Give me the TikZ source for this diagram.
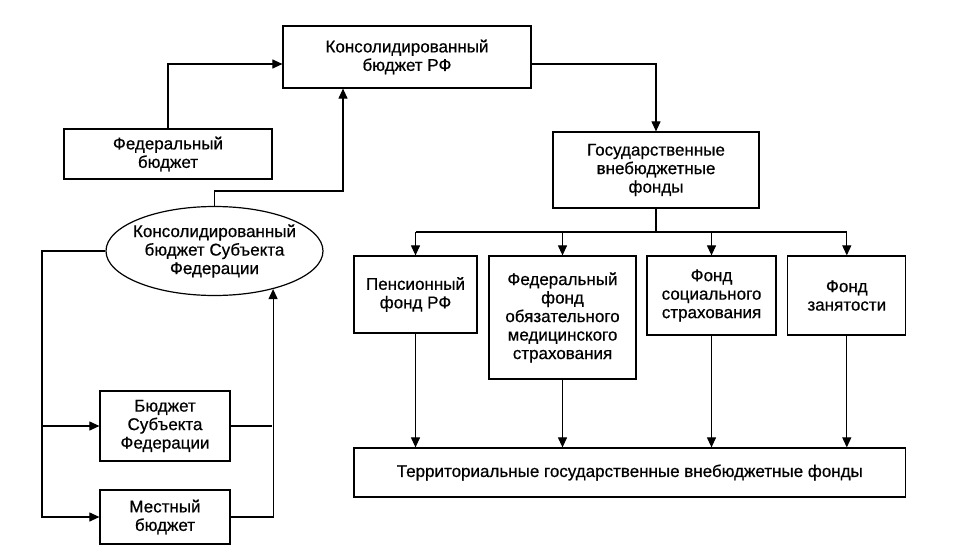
\documentclass[tikz,border=0pt]{standalone}
\usepackage{fontspec}
\setmainfont[FakeBold=0.6]{Liberation Sans}
\usetikzlibrary{shapes.geometric,arrows.meta}
\begin{document}
\begin{tikzpicture}[x=1pt,y=-1pt,
  every node/.style={font=\fontsize{17}{18.5}\selectfont, align=center, inner sep=0pt},
  box/.style={draw, line width=1.2pt, rectangle},
  oval/.style={draw, line width=1.2pt, ellipse},
  arr/.style={-{Triangle[length=10pt,width=9pt]}},
  conn/.style={line width=1.1pt}]
\fill[white] (0,0) rectangle (958,551);
\useasboundingbox (0,0) rectangle (958,551);

\node[box, minimum width=248pt, minimum height=62pt] (krf) at (407,57) {Консолидированный\\бюджет РФ};
\node[box, minimum width=208pt, minimum height=50pt] (fed) at (168,154) {Федеральный\\бюджет};
\node[oval, minimum width=217pt, minimum height=89pt, inner xsep=-8pt] (ell) at (214.5,251) {Консолидированный\\бюджет Субъекта\\Федерации};
\node[box, minimum width=130pt, minimum height=70pt] (bsf) at (165,426) {Бюджет\\Субъекта\\Федерации};
\node[box, minimum width=130pt, minimum height=54pt] (mest) at (165,517) {Местный\\бюджет};
\node[box, minimum width=206pt, minimum height=76pt] (gvf) at (656,170) {Государственные\\внебюджетные\\фонды};
\node[box, minimum width=123pt, minimum height=77pt] (pf) at (415.5,294.5) {Пенсионный\\фонд РФ};
\node[box, minimum width=147pt, minimum height=123pt] (ffoms) at (562.5,317.5) {Федеральный\\фонд\\обязательного\\медицинского\\страхования};
\node[box, minimum width=129pt, minimum height=79pt] (fss) at (711.5,295.5) {Фонд\\социального\\страхования};
\node[box, minimum width=118pt, minimum height=79pt] (fz) at (846.8,295.5) {Фонд\\занятости};
\node[box, minimum width=551.6pt, minimum height=49pt] (terr) at (629.8,472.5) {Территориальные государственные внебюджетные фонды};

\coordinate (rowK) at (0,64);
\coordinate (jA) at (343,191);
\coordinate (L) at (42,0);
\coordinate (R) at (272,0);
\coordinate (bus) at (0,232);

\draw[conn,arr] (fed.north) |- (krf.west |- rowK);
\draw[conn,arr] (ell.north) |- (jA) -- (jA |- krf.south);
\draw[conn,arr] (krf.east |- rowK) -| (gvf.north);

\draw[conn,arr] (ell.west) -| (L |- mest.west) -- (mest.west);
\draw[conn,arr] (L |- bsf.west) -- (bsf.west);
\draw[conn] (bsf.east) -- (R |- bsf.east);
\draw[conn,arr] (mest.east) -| (ell.-33);

\draw[conn] (gvf.south) -- (gvf.south |- bus);
\draw[conn] (pf.north |- bus) -- (fz.north |- bus);
\foreach \n in {pf,ffoms,fss,fz} {
  \draw[conn,arr] (\n.north |- bus) -- (\n.north);
  \draw[conn,arr] (\n.south) -- (\n.south |- terr.north);
}
\end{tikzpicture}
\end{document}
